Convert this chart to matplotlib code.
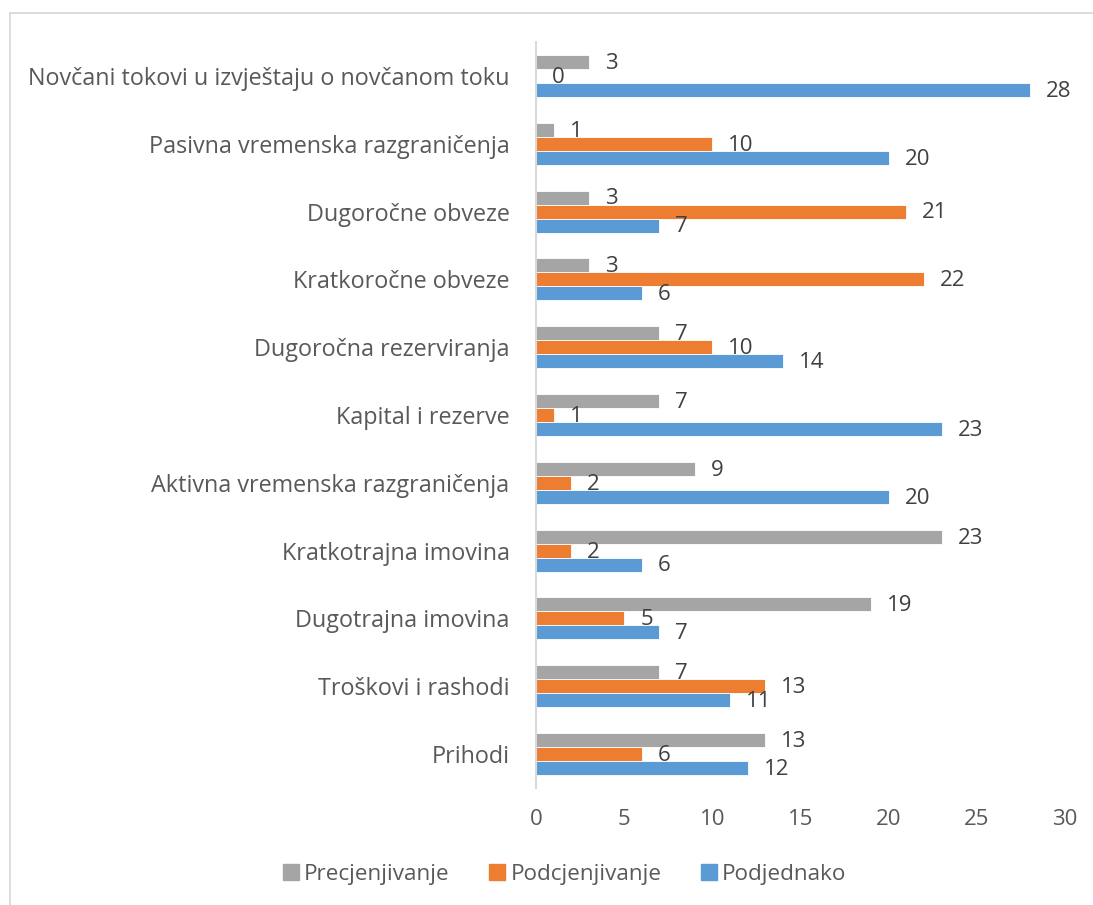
import matplotlib
matplotlib.use("Agg")
import matplotlib.pyplot as plt
from matplotlib.lines import Line2D
import numpy as np

plt.rcParams['font.family'] = ['Open Sans', 'DejaVu Sans']

categories = [
    "Prihodi",
    "Troškovi i rashodi",
    "Dugotrajna imovina",
    "Kratkotrajna imovina",
    "Aktivna vremenska razgraničenja",
    "Kapital i rezerve",
    "Dugoročna rezerviranja",
    "Kratkoročne obveze",
    "Dugoročne obveze",
    "Pasivna vremenska razgraničenja",
    "Novčani tokovi u izvještaju o novčanom toku",
]
precjenjivanje = [13, 7, 19, 23, 9, 7, 7, 3, 3, 1, 3]
podcjenjivanje = [6, 13, 5, 2, 2, 1, 10, 22, 21, 10, 0]
podjednako = [12, 11, 7, 6, 20, 23, 14, 6, 7, 20, 28]
series_names = ["Precjenjivanje", "Podcjenjivanje", "Podjednako"]
colors = ["#A5A5A5", "#ED7D31", "#5B9BD5"]
xticks = [0, 5, 10, 15, 20, 25, 30]

W, H = 1093, 905
fig = plt.figure(figsize=(W / 100, H / 100), dpi=100)
ax = fig.add_axes([536 / W, 1 - 788 / H, (1065 - 536) / W, (788 - 42) / H])

y = np.arange(len(categories))
h = 0.206
offsets = [h, 0, -h]
text_color = "#595959"
for vals, off, col in zip([precjenjivanje, podcjenjivanje, podjednako], offsets, colors):
    bars = ax.barh(y + off, vals, height=h, color=col, edgecolor='white', linewidth=0.6)
    for b, v in zip(bars, vals):
        ax.annotate(str(v), (b.get_width(), b.get_y() + b.get_height() / 2),
                    xytext=(11.5, -1), textcoords='offset points',
                    ha='left', va='center', fontsize=16, color="#404040")

ax.set_xlim(0, 30)
ax.set_ylim(-0.5, len(categories) - 0.5)
ax.set_xticks(xticks)
ax.set_xticklabels([str(t) for t in xticks])
ax.set_yticks(y)
ax.set_yticklabels(categories)
ax.tick_params(axis='x', length=0, pad=15, labelsize=16, labelcolor=text_color)
ax.tick_params(axis='y', length=0, pad=19, labelsize=16.8, labelcolor=text_color)
for s in ['top', 'right', 'bottom']:
    ax.spines[s].set_visible(False)
ax.spines['left'].set_color('#D9D9D9')
ax.spines['left'].set_linewidth(1.5)

handles = [Line2D([0], [0], marker='s', linestyle='', markersize=11,
                  markerfacecolor=c, markeredgecolor=c) for c in colors]
fig.legend(handles, series_names, loc='center', bbox_to_anchor=(563 / W, 1 - 874 / H),
           ncol=3, frameon=False, fontsize=16.2, labelcolor=text_color,
           handletextpad=0.1, columnspacing=1.6, handlelength=1.0)

# outer border (left and top visible)
fig.add_artist(Line2D([10 / W, 10 / W], [0, 1 - 13 / H], transform=fig.transFigure,
                      color='#D9D9D9', linewidth=1.3))
fig.add_artist(Line2D([10 / W, 1], [1 - 13 / H, 1 - 13 / H], transform=fig.transFigure,
                      color='#D9D9D9', linewidth=1.3))

fig.savefig("out.png", dpi=100, facecolor='white')
